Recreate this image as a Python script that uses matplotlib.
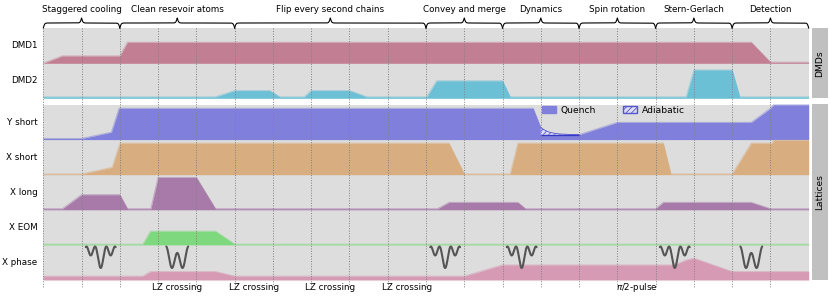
import numpy as np
import matplotlib
matplotlib.use("Agg")
import matplotlib.pyplot as plt
from matplotlib.patches import Rectangle, Patch

# ---------------- data ----------------
n_steps = 20
sections = ["Staggered cooling", "Clean resevoir atoms", "Flip every second chains",
            "Convey and merge", "Dynamics", "Spin rotation", "Stern-Gerlach", "Detection"]
section_bounds = [0, 2, 5, 10, 12, 14, 16, 18, 20]

dmd_rows = ["DMD1", "DMD2"]
lattice_rows = ["Y short", "X short", "X long", "X EOM", "X phase"]

dmd1_t = [0, 0.5, 2.0, 2.2, 18.5, 19.0, 20]
dmd1_v = [0.0, 0.21, 0.21, 0.60, 0.60, 0.03, 0.03]

dmd2_t = [0, 4.5, 5.0, 5.92, 6.18, 6.82, 7.0, 8.0, 8.45, 10.02, 10.28, 12.0, 12.2,
          16.8, 17.0, 18.0, 18.2, 20]
dmd2_v = [0.04, 0.04, 0.22, 0.22, 0.04, 0.04, 0.22, 0.22, 0.04, 0.04, 0.50, 0.50, 0.04,
          0.04, 0.81, 0.81, 0.04, 0.04]

yshort_t = [0, 1.0, 1.78, 1.98, 12.8, 13.0, 13.0, 14.0, 15.0, 18.5, 19.0, 19.08, 20]
yshort_v = [0.03, 0.03, 0.21, 0.89, 0.89, 0.34, 0.14, 0.14, 0.49, 0.49, 0.89, 0.99, 0.99]

adiabatic_t = [13.0, 13.1, 13.2, 13.35, 13.5, 13.7, 14.0]
adiabatic_v = [0.34, 0.27, 0.22, 0.18, 0.16, 0.15, 0.14]
adiabatic_floor = [0.14, 0.14, 0.14, 0.14, 0.14, 0.14, 0.14]

xshort_t = [0, 1.0, 1.8, 2.0, 10.6, 11.0, 12.2, 12.4, 16.2, 16.4, 18.0, 18.5, 19.05, 19.08, 20]
xshort_v = [0.02, 0.02, 0.21, 0.90, 0.90, 0.02, 0.02, 0.90, 0.90, 0.02, 0.02, 0.90, 0.90, 0.98, 0.98]

xlong_t = [0, 0.5, 1.0, 2.0, 2.2, 2.81, 3.0, 4.0, 4.5, 10.3, 10.6, 12.4, 12.6,
           16.0, 16.2, 18.5, 19.0, 20]
xlong_v = [0.03, 0.03, 0.43, 0.43, 0.03, 0.03, 0.92, 0.92, 0.03, 0.03, 0.21, 0.21, 0.03,
           0.03, 0.21, 0.21, 0.03, 0.03]

xeom_t = [0, 2.6, 2.8, 4.5, 5.0, 20]
xeom_v = [0.02, 0.02, 0.39, 0.39, 0.02, 0.02]

xphase_t = [0, 2.6, 2.8, 4.5, 5.0, 11.0, 12.0, 16.4, 16.6, 16.8, 17.0, 18.0, 20]
xphase_v = [0.11, 0.11, 0.24, 0.24, 0.11, 0.11, 0.43, 0.43, 0.48, 0.57, 0.62, 0.24, 0.24]

glyph_t = [1.5, 3.5, 10.5, 12.5, 16.5, 18.5]
glyph_kind = ["triple", "double", "triple", "triple", "triple", "double"]

pulse_labels = ["LZ crossing", "LZ crossing", "LZ crossing", "LZ crossing", r"$\pi$/2-pulse"]
pulse_t = [3.5, 5.5, 7.5, 9.5, 15.5]

# ---------------- style / layout ----------------
W, H = 830, 299
FS = 6.3
plt.rcParams['font.family'] = ['DejaVu Sans']
plt.rcParams['hatch.linewidth'] = 0.6

GRAY = "#dddddd"
BOX = "#c0c0c0"
C_DMD1 = "#c27f94"
C_DMD2 = "#6cc0d6"
C_Y = "#8080dc"
C_XS = "#d8ad80"
C_XL = "#a87aaa"
C_EOM = "#7ed87e"
C_PH = "#d79ab4"
plt.rcParams['hatch.color'] = "#5555d0"

X0, X1 = 43.3, 808.7
dmd_top, dmd_h = 28.3, 35.0
lat_top, lat_h = 104.5, 35.1

fig = plt.figure(figsize=(W / 100, H / 100), dpi=100)
ax = fig.add_axes([X0 / W, 0, (X1 - X0) / W, 1])
ax.set_xlim(0, n_steps)
ax.set_ylim(H, 0)
ax.axis('off')

# backgrounds
ax.add_patch(Rectangle((0, dmd_top), n_steps, 2 * dmd_h, color=GRAY, lw=0, zorder=0))
ax.add_patch(Rectangle((0, lat_top), n_steps, 5 * lat_h, color=GRAY, lw=0, zorder=0))


def draw_row(t, v, base, h, color):
    t = np.asarray(t, float)
    v = np.asarray(v, float)
    ax.fill_between(t, base, base - v * h, color=color, lw=0, zorder=2)
    ax.plot(t, base - v * h, color=color, lw=0.8, alpha=0.5, zorder=2)


dmd_bases = [dmd_top + (i + 1) * dmd_h for i in range(2)]
lat_bases = [lat_top + (i + 1) * lat_h for i in range(5)]

draw_row(dmd1_t, dmd1_v, dmd_bases[0], dmd_h, C_DMD1)
draw_row(dmd2_t, dmd2_v, dmd_bases[1], dmd_h, C_DMD2)
draw_row(yshort_t, yshort_v, lat_bases[0], lat_h, C_Y)
draw_row(xshort_t, xshort_v, lat_bases[1], lat_h, C_XS)
draw_row(xlong_t, xlong_v, lat_bases[2], lat_h, C_XL)
draw_row(xeom_t, xeom_v, lat_bases[3], lat_h, C_EOM)
draw_row(xphase_t, xphase_v, lat_bases[4], lat_h, C_PH)

# adiabatic hatched region
b = lat_bases[0]
ax.fill_between(adiabatic_t, b - np.array(adiabatic_floor) * lat_h,
                b - np.array(adiabatic_v) * lat_h, facecolor="#dcdcf2",
                edgecolor="#5555d0", hatch="//////", lw=0, zorder=3)
ax.plot(adiabatic_t, b - np.array(adiabatic_v) * lat_h, color="#5555d0", lw=0.6, zorder=3)
ax.plot(adiabatic_t, b - np.array(adiabatic_floor) * lat_h, color="#3838c8", lw=0.9, zorder=3)

# grid lines
for k in range(n_steps + 1):
    ax.plot([k, k], [dmd_top, 287], ls=(0, (1, 1.6)), color="#808080", lw=0.7, zorder=6)

# lattice potential glyphs
g_top, g_bot = 246.5, 268.0
for tc, kind in zip(glyph_t, glyph_kind):
    if kind == "triple":
        wdt = 0.78
        s = np.linspace(-1.5, 1.5, 300)
        V = -np.cos(2 * np.pi * s) - 0.86 * np.cos(np.pi * s)
    else:
        wdt = 0.57
        s = np.linspace(-1, 1, 300)
        V = np.cos(2 * np.pi * s) + 0.77 * s ** 2
    vn = (V - V.min()) / (V.max() - V.min())
    xs = tc + s / s.max() * wdt / 2
    ys = g_bot - vn * (g_bot - g_top)
    ax.plot(xs, ys, color="#555555", lw=1.5, solid_capstyle='round', zorder=7)


# braces
def brace(ta, tb, y_end=28.0, amp=10.0, beta=55.0):
    n = 801
    x = np.linspace(ta, tb, n)
    xh = x[: n // 2 + 1]
    yh = 1 / (1 + np.exp(-beta * (xh - xh[0]))) + 1 / (1 + np.exp(-beta * (xh - xh[-1])))
    yy = np.concatenate((yh, yh[-2::-1]))
    ax.plot(x, y_end - (yy - 0.5) * amp, color="black", lw=0.8, zorder=5, clip_on=False)


for name, ta, tb in zip(sections, section_bounds[:-1], section_bounds[1:]):
    brace(ta, tb)
    ax.text((ta + tb) / 2, 10, name, ha='center', va='center', fontsize=FS)

# left labels
for name, base in zip(dmd_rows, dmd_bases):
    fig.text(37.5 / W, 1 - (base - dmd_h / 2) / H, name, ha='right', va='center', fontsize=FS)
for name, base in zip(lattice_rows, lat_bases):
    fig.text(37.5 / W, 1 - (base - lat_h / 2) / H, name, ha='right', va='center', fontsize=FS)

# right boxes
bx0, bw = 812, 16
for lab, top, hh in [("DMDs", dmd_top, 2 * dmd_h), ("Lattices", lat_top, 5 * lat_h)]:
    fig.add_artist(Rectangle((bx0 / W, 1 - (top + hh) / H), bw / W, hh / H,
                             transform=fig.transFigure, color=BOX, lw=0))
    fig.text((bx0 + bw / 2) / W, 1 - (top + hh / 2) / H, lab, rotation=90,
             ha='center', va='center', fontsize=FS + 0.3)

# bottom labels
for lab, tt in zip(pulse_labels, pulse_t):
    ax.text(tt, 288, lab, ha='center', va='center', fontsize=FS)

# legend
handles = [Patch(facecolor=C_Y, edgecolor=C_Y, label="Quench"),
           Patch(facecolor="#dcdcf2", edgecolor="#5555d0", hatch="//////", label="Adiabatic")]
fig.legend(handles=handles, loc='upper left', bbox_to_anchor=(542 / W, 1 - 106 / H),
           bbox_transform=fig.transFigure, ncol=2, frameon=False, fontsize=FS + 0.3,
           handlelength=1.5, handleheight=0.85, handletextpad=0.5, columnspacing=3.0,
           borderpad=0, borderaxespad=0)

fig.savefig("out.png", dpi=100)
